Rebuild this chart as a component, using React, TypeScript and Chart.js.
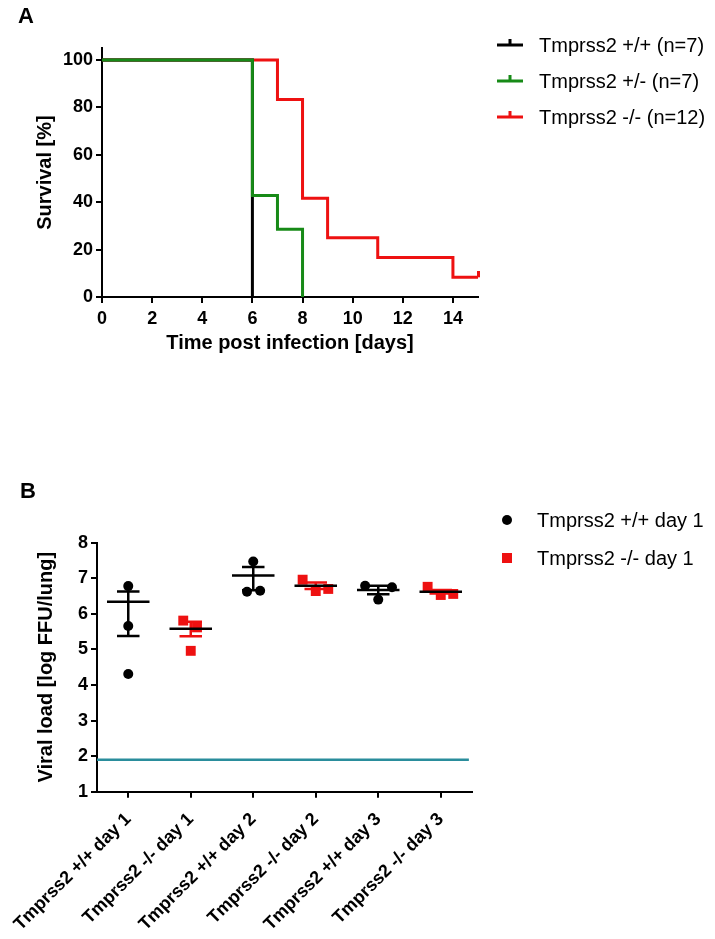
import { useEffect, useRef } from 'react';
import { Chart, registerables } from 'chart.js';

Chart.register(...registerables);

const FONT = "'Liberation Sans', Arial, Helvetica, sans-serif";
const BLACK = '#000000';
const GREEN = '#178a17';
const RED = '#ee1111';
const TEAL = '#2a8d9c';

// ---------- Panel A: survival ----------
const survivalXTicks = [0, 2, 4, 6, 8, 10, 12, 14];
const survivalYTicks = [0, 20, 40, 60, 80, 100];
const seriesLabelsA = ['Tmprss2 +/+ (n=7)', 'Tmprss2 +/- (n=7)', 'Tmprss2 -/- (n=12)'];

const wtTimes = [0, 6];
const wtSurvival = [100, 0];
const hetTimes = [0, 6, 7, 8];
const hetSurvival = [100, 42.86, 28.57, 0];
const koTimes = [0, 7, 8, 9, 11, 14, 15];
const koSurvival = [100, 83.33, 41.67, 25, 16.67, 8.33, 8.33];
const koCensorTimes = [15];
const koCensorSurvival = [8.33];

// ---------- Panel B: viral load ----------
const groupLabels = [
  'Tmprss2 +/+ day 1',
  'Tmprss2 -/- day 1',
  'Tmprss2 +/+ day 2',
  'Tmprss2 -/- day 2',
  'Tmprss2 +/+ day 3',
  'Tmprss2 -/- day 3',
];
const groupIsKO = [false, true, false, true, false, true];
const groupValues = [
  [6.78, 5.66, 4.31],
  [5.81, 5.62, 4.96],
  [7.47, 6.62, 6.65],
  [6.96, 6.64, 6.7],
  [6.79, 6.4, 6.75],
  [6.76, 6.53, 6.56],
];
const groupJitter = [
  [0, 0, 0],
  [-0.12, 0.1, 0],
  [0, -0.1, 0.11],
  [-0.21, 0, 0.2],
  [-0.21, 0, 0.22],
  [-0.21, 0, 0.2],
];
const groupMeans = [6.34, 5.58, 7.08, 6.79, 6.67, 6.62];
const groupErrLow = [5.38, 5.37, 6.66, 6.7, 6.55, 6.57];
const groupErrHigh = [6.63, 5.78, 7.32, 6.88, 6.79, 6.67];
const detectionLimit = 1.9;
const viralYTicks = [1, 2, 3, 4, 5, 6, 7, 8];
const seriesLabelsB = ['Tmprss2 +/+ day 1', 'Tmprss2 -/- day 1'];

const MEAN_HALF = 0.34;
const WHISKER_HALF = 0.18;

const tickFont = { family: FONT, size: 18, weight: 'bold' as const };
const titleFont = { family: FONT, size: 20, weight: 'bold' as const };

function pts(xs: number[], ys: number[]) {
  return xs.map((x, i) => ({ x, y: ys[i] }));
}

function tickImage(color: string) {
  const c = document.createElement('canvas');
  c.width = 3;
  c.height = 12;
  const g = c.getContext('2d')!;
  g.fillStyle = color;
  g.fillRect(0, 0, 3, 6);
  return c;
}

const axisGrid = {
  display: true,
  drawOnChartArea: false,
  drawTicks: true,
  tickLength: 6,
  color: BLACK,
  lineWidth: 2,
};
const axisBorder = { display: true, color: BLACK, width: 2 };

function configA(): any {
  const lineDs = (label: string, xs: number[], ys: number[], color: string, order: number) => ({
    label,
    data: pts(xs, ys),
    showLine: true,
    stepped: 'before',
    borderColor: color,
    backgroundColor: color,
    borderWidth: 3,
    pointRadius: 0,
    borderCapStyle: 'butt',
    clip: false,
    order,
  });
  const legendPlugin = {
    id: 'legendA',
    afterDraw(chart: any) {
      const ctx = chart.ctx;
      ctx.save();
      ctx.fillStyle = BLACK;
      ctx.font = `bold 22px ${FONT}`;
      ctx.textBaseline = 'alphabetic';
      ctx.textAlign = 'left';
      ctx.fillText('A', 18, 23);
      const colors = [BLACK, GREEN, RED];
      seriesLabelsA.forEach((lab, i) => {
        const y = 45 + i * 36;
        ctx.strokeStyle = colors[i];
        ctx.lineWidth = 3;
        ctx.beginPath();
        ctx.moveTo(497, y);
        ctx.lineTo(523, y);
        ctx.moveTo(510, y);
        ctx.lineTo(510, y - 6);
        ctx.stroke();
        ctx.fillStyle = BLACK;
        ctx.font = `20px ${FONT}`;
        ctx.textBaseline = 'middle';
        ctx.fillText(lab, 539, y + 1);
      });
      ctx.restore();
    },
  };
  return {
    type: 'scatter',
    data: {
      datasets: [
        lineDs(seriesLabelsA[0], wtTimes, wtSurvival, BLACK, 1),
        lineDs(seriesLabelsA[1], hetTimes, hetSurvival, GREEN, 0),
        lineDs(seriesLabelsA[2], koTimes, koSurvival, RED, 2),
        {
          label: 'censored',
          data: pts(koCensorTimes, koCensorSurvival),
          showLine: false,
          pointStyle: tickImage(RED),
          pointRadius: 3,
          clip: false,
          order: 2,
        },
      ],
    },
    options: {
      responsive: false,
      maintainAspectRatio: false,
      animation: false,
      events: [],
      layout: { padding: { top: 48.15, left: 0, right: 237, bottom: 25 } },
      plugins: { legend: { display: false }, tooltip: { enabled: false } },
      scales: {
        x: {
          type: 'linear',
          min: 0,
          max: 15,
          afterBuildTicks: (s: any) => {
            s.ticks = survivalXTicks.map((v) => ({ value: v }));
          },
          ticks: { color: BLACK, font: tickFont, padding: 5, autoSkip: false, maxRotation: 0 },
          grid: axisGrid,
          border: axisBorder,
          title: { display: true, text: 'Time post infection [days]', color: BLACK, font: titleFont, padding: 0 },
          afterFit: (s: any) => {
            s.height = 58;
            s.paddingLeft = 0;
            s.paddingRight = 0;
          },
        },
        y: {
          type: 'linear',
          min: 0,
          max: 105,
          afterBuildTicks: (s: any) => {
            s.ticks = survivalYTicks.map((v) => ({ value: v }));
          },
          ticks: { color: BLACK, font: tickFont, padding: 3, autoSkip: false },
          grid: axisGrid,
          border: axisBorder,
          title: { display: true, text: 'Survival [%]', color: BLACK, font: titleFont, padding: { top: 33, bottom: 0 } },
          afterFit: (s: any) => {
            s.width = 102;
            s.paddingTop = 0;
            s.paddingBottom = 0;
          },
        },
      },
    },
    plugins: [legendPlugin],
  };
}

function configB(): any {
  const pointsFor = (ko: boolean) => {
    const out: { x: number; y: number }[] = [];
    groupValues.forEach((vals, g) => {
      if (groupIsKO[g] !== ko) return;
      vals.forEach((v, k) => out.push({ x: g + groupJitter[g][k], y: v }));
    });
    return out;
  };
  const meanLines: any[] = [];
  groupMeans.forEach((m, g) => {
    meanLines.push({ x: g - MEAN_HALF, y: m }, { x: g + MEAN_HALF, y: m }, { x: g, y: null });
  });
  const errorLines = (ko: boolean) => {
    const out: any[] = [];
    groupMeans.forEach((_, g) => {
      if (groupIsKO[g] !== ko) return;
      const lo = groupErrLow[g];
      const hi = groupErrHigh[g];
      out.push({ x: g - WHISKER_HALF, y: hi }, { x: g + WHISKER_HALF, y: hi }, { x: g, y: null });
      out.push({ x: g - WHISKER_HALF, y: lo }, { x: g + WHISKER_HALF, y: lo }, { x: g, y: null });
      out.push({ x: g, y: lo }, { x: g, y: hi }, { x: g, y: null });
    });
    return out;
  };
  const lineStyle = (color: string, width: number) => ({
    showLine: true,
    spanGaps: false,
    borderColor: color,
    backgroundColor: color,
    borderWidth: width,
    pointRadius: 0,
    borderCapStyle: 'butt',
    clip: false,
  });
  const legendPlugin = {
    id: 'legendB',
    afterDraw(chart: any) {
      const ctx = chart.ctx;
      ctx.save();
      ctx.fillStyle = BLACK;
      ctx.font = `bold 22px ${FONT}`;
      ctx.textBaseline = 'alphabetic';
      ctx.textAlign = 'left';
      ctx.fillText('B', 20, 58);
      // circle marker
      ctx.beginPath();
      ctx.arc(507, 80, 5, 0, Math.PI * 2);
      ctx.fillStyle = BLACK;
      ctx.fill();
      // square marker
      ctx.fillStyle = RED;
      ctx.fillRect(502, 113, 10, 10);
      ctx.fillStyle = BLACK;
      ctx.font = `20px ${FONT}`;
      ctx.textBaseline = 'middle';
      ctx.fillText(seriesLabelsB[0], 537, 81);
      ctx.fillText(seriesLabelsB[1], 537, 119);
      ctx.restore();
    },
  };
  return {
    type: 'scatter',
    data: {
      datasets: [
        {
          label: 'detection limit',
          data: [
            { x: -0.5, y: detectionLimit },
            { x: 5.45, y: detectionLimit },
          ],
          ...lineStyle(TEAL, 2.5),
          order: 5,
        },
        {
          label: seriesLabelsB[0],
          data: pointsFor(false),
          showLine: false,
          pointStyle: 'circle',
          pointRadius: 5,
          borderWidth: 0,
          backgroundColor: BLACK,
          borderColor: BLACK,
          clip: false,
          order: 3,
        },
        {
          label: seriesLabelsB[1],
          data: pointsFor(true),
          showLine: false,
          pointStyle: 'rect',
          pointRadius: 7,
          borderWidth: 0,
          backgroundColor: RED,
          borderColor: RED,
          clip: false,
          order: 3,
        },
        { label: 'err wt', data: errorLines(false), ...lineStyle(BLACK, 2.5), order: 2 },
        { label: 'err ko', data: errorLines(true), ...lineStyle(RED, 2.5), order: 2 },
        { label: 'mean', data: meanLines, ...lineStyle(BLACK, 2.5), order: 0 },
      ],
    },
    options: {
      responsive: false,
      maintainAspectRatio: false,
      animation: false,
      events: [],
      layout: { padding: { top: 102.7, left: 0, right: 243, bottom: 0 } },
      plugins: { legend: { display: false }, tooltip: { enabled: false } },
      scales: {
        x: {
          type: 'linear',
          min: -0.5,
          max: 5.5,
          afterBuildTicks: (s: any) => {
            s.ticks = groupLabels.map((_, i) => ({ value: i }));
          },
          ticks: {
            color: BLACK,
            font: tickFont,
            padding: 11,
            autoSkip: false,
            minRotation: 45,
            maxRotation: 45,
            callback: (v: any) => groupLabels[Math.round(Number(v))] ?? '',
          },
          grid: axisGrid,
          border: axisBorder,
          afterFit: (s: any) => {
            s.height = 147.3;
            s.paddingLeft = 0;
            s.paddingRight = 0;
          },
        },
        y: {
          type: 'linear',
          min: 1,
          max: 8,
          afterBuildTicks: (s: any) => {
            s.ticks = viralYTicks.map((v) => ({ value: v }));
          },
          ticks: { color: BLACK, font: tickFont, padding: 3, autoSkip: false },
          grid: axisGrid,
          border: axisBorder,
          title: {
            display: true,
            text: 'Viral load [log FFU/lung]',
            color: BLACK,
            font: titleFont,
            padding: { top: 34, bottom: 0 },
          },
          afterFit: (s: any) => {
            s.width = 97;
            s.paddingTop = 0;
            s.paddingBottom = 0;
          },
        },
      },
    },
    plugins: [legendPlugin],
  };
}

export default function App() {
  const refA = useRef<HTMLCanvasElement>(null);
  const refB = useRef<HTMLCanvasElement>(null);
  useEffect(() => {
    const a = new Chart(refA.current!, configA());
    const b = new Chart(refB.current!, configB());
    return () => {
      a.destroy();
      b.destroy();
    };
  }, []);
  return (
    <div
      style={{
        position: 'absolute',
        left: 0,
        top: 0,
        width: 715,
        height: 939,
        background: '#ffffff',
        overflow: 'hidden',
      }}
    >
      <canvas
        ref={refA}
        width={715}
        height={380}
        style={{ position: 'absolute', left: 0, top: 0, width: 715, height: 380 }}
      />
      <canvas
        ref={refB}
        width={715}
        height={499}
        style={{ position: 'absolute', left: 0, top: 440, width: 715, height: 499 }}
      />
    </div>
  );
}
